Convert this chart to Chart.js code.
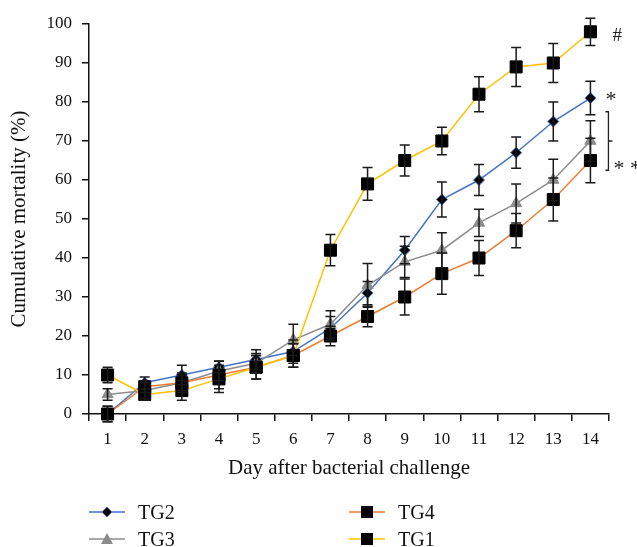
<!DOCTYPE html>
<html>
<head>
<meta charset="utf-8">
<script src="https://cdn.jsdelivr.net/npm/chart.js@4.4.1/dist/chart.umd.min.js"></script>
<style>
  body { margin: 0; background: #fff; }
  #wrap { position: relative; width: 637px; height: 547px; }
  canvas { position: absolute; left: 0; top: 0; }
  .legend { position: absolute; left: 0; top: 0; width: 637px; height: 547px; font: 20px "Liberation Serif", "DejaVu Serif", serif; color: #111; }
  .item { position: absolute; display: flex; align-items: center; white-space: nowrap; }
  .item svg { margin-right: 13px; }
</style>
</head>
<body>
<div id="wrap">
  <canvas id="chart" width="637" height="547"></canvas>
  <div class="legend" id="legend"></div>
</div>
<script>
const days = ["1", "2", "3", "4", "5", "6", "7", "8", "9", "10", "11", "12", "13", "14"]

// cumulative mortality (%) per group
const tg2 = [0, 8, 10, 12, 14, 16, 22, 31, 42, 55, 60, 67, 75, 81]
const tg3 = [5, 6, 8, 11, 13, 19, 23, 33, 39, 42, 49, 54, 60, 70]
const tg4 = [0, 7, 8, 10, 12, 15, 20, 25, 30, 36, 40, 47, 55, 65]
const tg1 = [10, 5, 6, 9, 12, 15, 42, 59, 65, 70, 82, 89, 90, 98]

// error bar half-widths
const tg2Err = [2, 1.5, 2.5, 1.5, 2.5, 3, 3, 3, 3.5, 4.5, 4, 4, 5, 4.3]
const tg3Err = [1.5, 2, 2.5, 2.5, 2.5, 4, 3.5, 5.6, 4, 4.5, 3.5, 5, 5.3, 5.2]
const tg4Err = [2, 1.5, 2, 3.5, 3, 3, 2.5, 2.6, 4.6, 5.3, 4.5, 4.4, 5.5, 5.7]
const tg1Err = [2, 1.5, 2.5, 3.5, 3, 3, 4, 4.2, 4, 3.5, 4.5, 5, 5, 3.5]

const FONT = "'Liberation Serif', 'DejaVu Serif', serif"

const errorBars = {
  id: "errorBars",
  afterDatasetsDraw(chart) {
    const { ctx } = chart
    const yScale = chart.scales.y
    ctx.save()
    ctx.strokeStyle = "#1a1a1a"
    ctx.lineWidth = 1.5
    chart.data.datasets.forEach((ds, i) => {
      const meta = chart.getDatasetMeta(i)
      ds.errors.forEach((e, j) => {
        const px = meta.data[j].x
        const top = yScale.getPixelForValue(ds.data[j] + e)
        const bot = yScale.getPixelForValue(ds.data[j] - e)
        ctx.beginPath()
        ctx.moveTo(px, top); ctx.lineTo(px, bot)
        ctx.moveTo(px - 5, top); ctx.lineTo(px + 5, top)
        ctx.moveTo(px - 5, bot); ctx.lineTo(px + 5, bot)
        ctx.stroke()
      })
    })
    ctx.restore()
  }
}

// significance marks next to the last day
const sigMarks = {
  id: "sigMarks",
  afterDraw(chart) {
    const { ctx } = chart
    const x = chart.scales.x.getPixelForValue(13)
    const y = chart.scales.y
    ctx.save()
    ctx.fillStyle = "#222"
    ctx.textBaseline = "middle"
    ctx.font = "19px " + FONT
    ctx.fillText("#", x + 22, y.getPixelForValue(tg1[13]) + 4)
    ctx.font = "22px " + FONT
    ctx.fillText("*", x + 15, y.getPixelForValue(tg2[13]) + 2)
    ctx.fillText("* *", x + 23, y.getPixelForValue(tg3[13]) + 28)
    const top = y.getPixelForValue(tg3[13] + 7.5)
    const bot = y.getPixelForValue(tg4[13] - 2.5)
    const bx = x + 18
    ctx.strokeStyle = "#222"
    ctx.lineWidth = 1.3
    ctx.beginPath()
    ctx.moveTo(bx - 3, top); ctx.lineTo(bx, top); ctx.lineTo(bx, bot); ctx.lineTo(bx - 3, bot)
    ctx.moveTo(bx, (top + bot) / 2); ctx.lineTo(bx + 4, (top + bot) / 2)
    ctx.stroke()
    ctx.restore()
  }
}

const series = [
  { label: "TG2", data: tg2, errors: tg2Err, color: "#4472c4", style: "rectRot", radius: 5.5, border: "#4472c4", fill: "#000", order: 3 },
  { label: "TG3", data: tg3, errors: tg3Err, color: "#8c8c8c", style: "triangle", radius: 6.5, border: "#8c8c8c", fill: "#8c8c8c", order: 2 },
  { label: "TG4", data: tg4, errors: tg4Err, color: "#ed7d31", style: "rect", radius: 8.5, border: "#000", fill: "#000", order: 1 },
  { label: "TG1", data: tg1, errors: tg1Err, color: "#ffc000", style: "rect", radius: 8.5, border: "#000", fill: "#000", order: 0 }
]

new Chart(document.getElementById("chart"), {
  type: "line",
  data: {
    labels: days,
    datasets: series.map(s => ({
      label: s.label,
      data: s.data,
      errors: s.errors,
      order: s.order,
      borderColor: s.color,
      borderWidth: 1.5,
      pointStyle: s.style,
      pointRadius: s.radius,
      pointBackgroundColor: s.fill,
      pointBorderColor: s.border,
      pointBorderWidth: 1,
      tension: 0,
      clip: false
    }))
  },
  options: {
    responsive: false,
    animation: false,
    layout: { padding: { left: 0, right: 28, top: 24, bottom: 64 } },
    plugins: { legend: { display: false }, tooltip: { enabled: false } },
    scales: {
      x: {
        offset: true,
        grid: { display: true, drawOnChartArea: false, offset: true, tickLength: 7, color: "#111", lineWidth: 1.5 },
        border: { color: "#111", width: 1.5 },
        ticks: { color: "#111", font: { family: FONT, size: 17 }, padding: 8, maxRotation: 0 },
        title: { display: true, text: "Day after bacterial challenge", color: "#111", font: { family: FONT, size: 21 }, padding: { top: 4, bottom: 2 } },
        afterFit: (s) => { s.height = 69 }
      },
      y: {
        min: 0,
        max: 100,
        grid: { display: true, drawOnChartArea: false, tickLength: 7, color: "#111", lineWidth: 1.5 },
        border: { color: "#111", width: 1.5 },
        ticks: { stepSize: 10, color: "#111", font: { family: FONT, size: 17 }, padding: 10 },
        title: { display: true, text: "Cumulative mortality (%)", color: "#111", font: { family: FONT, size: 21 }, padding: { top: 7, bottom: 0 } },
        afterFit: (s) => { s.width = 89 }
      }
    }
  },
  plugins: [errorBars, sigMarks]
})

// legend: two columns, line + marker, as in the figure
function icon(s) {
  let mark
  if (s.style === "rectRot") mark = `<polygon points="18,3 23,8 18,13 13,8" fill="#000" stroke="${s.color}" stroke-width="1"/>`
  else if (s.style === "triangle") mark = `<polygon points="18,2 24,13 12,13" fill="${s.color}"/>`
  else mark = `<rect x="12" y="2" width="12" height="12" fill="#000"/>`
  return `<svg width="36" height="16"><line x1="0" y1="8" x2="36" y2="8" stroke="${s.color}" stroke-width="1.5"/>${mark}</svg>`
}
const slots = { TG2: [89, 512], TG3: [89, 539], TG4: [349, 512], TG1: [349, 539] }
const legend = document.getElementById("legend")
series.forEach(s => {
  const d = document.createElement("div")
  d.className = "item"
  d.style.left = slots[s.label][0] + "px"
  d.style.top = (slots[s.label][1] - 11) + "px"
  d.style.height = "22px"
  d.innerHTML = icon(s) + "<span>" + s.label + "</span>"
  legend.appendChild(d)
})
</script>
</body>
</html>
